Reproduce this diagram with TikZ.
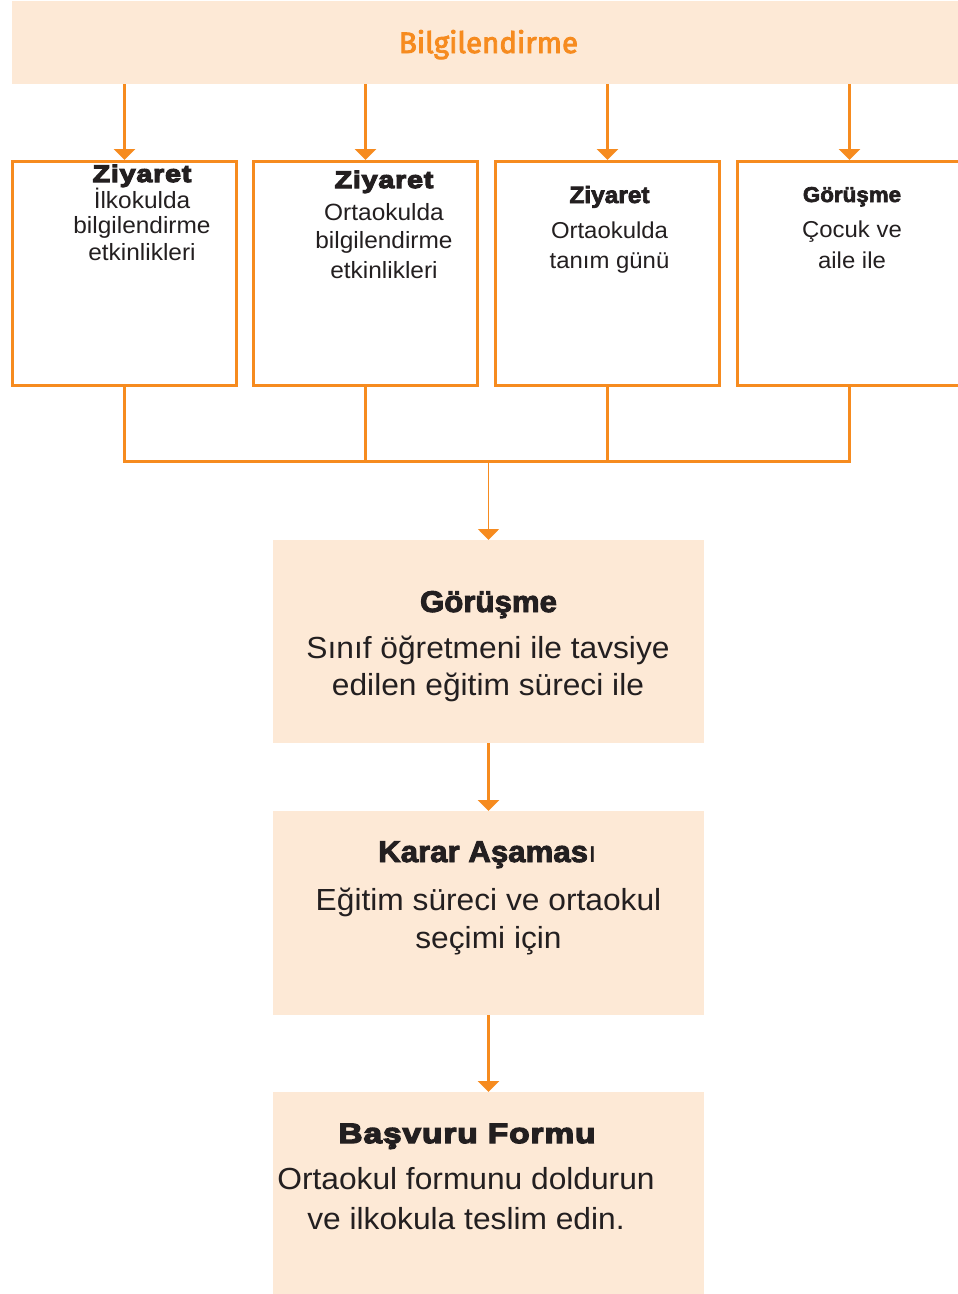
\documentclass[tikz,border=0pt]{standalone}
\usepackage{fontspec}
\setmainfont{Liberation Sans}[FakeStretch=1.04]
\newfontfamily\blk{Liberation Sans Bold}[FakeStretch=1.19,FakeBold=5,LetterSpace=3.5]
\newfontfamily\bld{Liberation Sans Bold}[FakeStretch=1.04,FakeBold=3]
\newfontfamily\titlefont{Fira Sans}[FakeBold=3]
\usetikzlibrary{arrows.meta}
\definecolor{orng}{HTML}{F68B1F}
\definecolor{peach}{HTML}{FDE9D6}
\definecolor{ink}{HTML}{231F20}
\tikzset{
  fillbox/.style={fill=peach, draw=none, inner sep=0, outer sep=0},
  framebox/.style={draw=orng, line width=3pt, fill=white, inner sep=0, minimum width=224pt, minimum height=224pt},
  arr/.style={draw=orng, line width=3pt, -{Triangle[width=21pt,length=11pt]}},
  arrthin/.style={draw=orng, line width=2.5pt, -{Triangle[width=21pt,length=11pt]}},
  conn/.style={draw=orng, line width=3pt},
  txt/.style={anchor=base, inner sep=0, text=ink},
  small/.style={font=\fontsize{23.5}{28}\selectfont},
  smallb/.style={font=\fontsize{23}{28}\selectfont},
  big/.style={font=\fontsize{30.5}{36}\selectfont}
}
\begin{document}
\begin{tikzpicture}[x=1pt, y=-1pt]
\useasboundingbox (0,0) rectangle (958,1294);
% top box
\node[fillbox, minimum width=952pt, minimum height=83pt] (top) at (488,42.5) {};
\node[anchor=base, inner sep=0, text=orng, font=\titlefont\fontsize{29.5}{34}\selectfont] (ttl) at (488.5,53) {Bilgilendirme};
% four framed boxes
\node[framebox] (b1) at (124.5,273.5) {};
\node[framebox] (b2) at (365.5,273.5) {};
\node[framebox] (b3) at (607.5,273.5) {};
\node[framebox] (b4) at (849.5,273.5) {};
% arrows from top
\draw[arr] (top.south -| b1.north) -- (b1.north);
\draw[arr] (top.south -| b2.north) -- (b2.north);
\draw[arr] (top.south -| b3.north) -- (b3.north);
\draw[arr] (top.south -| b4.north) -- (b4.north);
% box texts
\node[txt, font=\blk\fontsize{24}{28}\selectfont] (t1a) at (142,182) {Ziyaret};
\node[txt, small] (t1b) at (142,208) {İlkokulda};
\node[txt, small] (t1c) at (142,233) {bilgilendirme};
\node[txt, small] (t1d) at (142,260) {etkinlikleri};
\node[txt, font=\blk\fontsize{24}{28}\selectfont] (t2a) at (384,188) {Ziyaret};
\node[txt, small] (t2b) at (384,220) {Ortaokulda};
\node[txt, small] (t2c) at (384,248) {bilgilendirme};
\node[txt, small] (t2d) at (384,278) {etkinlikleri};
\node[txt, font=\bld\fontsize{23.5}{28}\selectfont] (t3a) at (609.5,203) {Ziyaret};
\node[txt, smallb] (t3b) at (609.5,238) {Ortaokulda};
\node[txt, smallb] (t3c) at (609.5,268) {tanım günü};
\node[txt, font=\bld\fontsize{21.5}{26}\selectfont] (t4a) at (852,202) {Görüşme};
\node[txt, smallb] (t4b) at (852,237) {Çocuk ve};
\node[txt, smallb] (t4c) at (852,268) {aile ile};
% bracket
\coordinate (jl) at (124.5,461);
\coordinate (jr) at (849.5,461);
\draw[conn] (b1.south) -- (jl) -- (jr) -- (b4.south);
\draw[conn] (b2.south) -- (b2.south |- jl);
\draw[conn] (b3.south) -- (b3.south |- jl);
\coordinate (jn) at (488.5,463);
% lower boxes
\node[fillbox, minimum width=431pt, minimum height=203pt] (g1) at (488.5,641.5) {};
\node[fillbox, minimum width=431pt, minimum height=204pt] (g2) at (488.5,913) {};
\node[fillbox, minimum width=431pt, minimum height=202pt] (g3) at (488.5,1193) {};
\draw[draw=orng, line width=1.8pt, -{Triangle[width=21pt,length=11pt]}] (jn) -- (g1.north);
\draw[arrthin] (g1.south) -- (g2.north);
\draw[arrthin] (g2.south) -- (g3.north);
% lower texts
\node[txt, font=\bld\fontsize{30}{36}\selectfont] (g1a) at (488.5,612) {Görüşme};
\node[txt, big] (g1b) at (488,658) {Sınıf öğretmeni ile tavsiye};
\node[txt, big] (g1c) at (488,695) {edilen eğitim süreci ile};
\node[txt, font=\bld\fontsize{30}{36}\selectfont] (g2a) at (487.5,862) {Karar Aşamas{\mdseries\rmfamily ı}};
\node[txt, big] (g2b) at (488.5,910) {Eğitim süreci ve ortaokul};
\node[txt, big] (g2c) at (488.5,948) {seçimi için};
\node[txt, font=\blk\fontsize{28}{34}\selectfont] (g3a) at (467,1143) {Başvuru Formu};
\node[txt, big] (g3b) at (466,1189) {Ortaokul formunu doldurun};
\node[txt, big] (g3c) at (466,1229) {ve ilkokula teslim edin.};
\end{tikzpicture}
\end{document}
